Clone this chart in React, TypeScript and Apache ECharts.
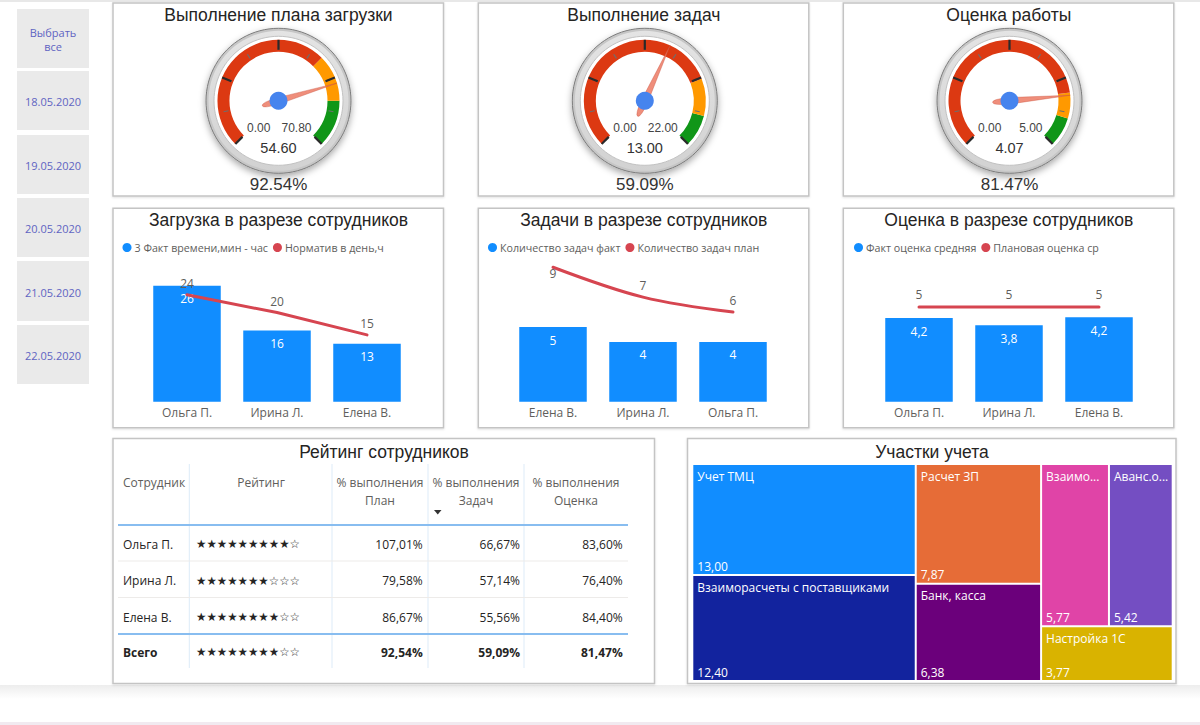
import React, { useEffect, useRef } from "react";
import * as echarts from "echarts";

// ---------- DATA ----------
const selectAllLines = ["Выбрать", "все"];
const dateSlicers = ["18.05.2020", "19.05.2020", "20.05.2020", "21.05.2020", "22.05.2020"];

const gaugeTitles = ["Выполнение плана загрузки", "Выполнение задач", "Оценка работы"];
const gaugeValues = [54.6, 13.0, 4.07];
const gaugeMin = [0, 0, 0];
const gaugeMax = [70.8, 22.0, 5.0];
const gaugeOrangeFrom = [47.2, 16.6, 4.02];
const gaugeGreenFrom = [59.0, 19.5, 4.48];
const gaugePercents = [92.54, 59.09, 81.47];

const barTitles = ["Загрузка в разрезе сотрудников", "Задачи в разрезе сотрудников", "Оценка в разрезе сотрудников"];
const loadCategories = ["Ольга П.", "Ирина Л.", "Елена В."];
const loadSeriesNames = ["3 Факт времени,мин - час", "Норматив в день,ч"];
const loadFact = [26, 16, 13];
const loadNorm = [24, 20, 15];

const taskCategories = ["Елена В.", "Ирина Л.", "Ольга П."];
const taskSeriesNames = ["Количество задач факт", "Количество задач план"];
const taskFact = [5, 4, 4];
const taskPlan = [9, 7, 6];

const scoreCategories = ["Ольга П.", "Ирина Л.", "Елена В."];
const scoreSeriesNames = ["Факт оценка средняя", "Плановая оценка ср"];
const scoreFact = [4.18, 3.82, 4.22];
const scorePlan = [5, 5, 5];

const tableTitle = "Рейтинг сотрудников";
const tableHeaders = [["Сотрудник"], ["Рейтинг"], ["% выполнения", "План"], ["% выполнения", "Задач"], ["% выполнения", "Оценка"]];
const employees = ["Ольга П.", "Ирина Л.", "Елена В."];
const ratingStars = [9, 7, 8];
const planPct = [107.01, 79.58, 86.67];
const taskPct = [66.67, 57.14, 55.56];
const scorePct = [83.6, 76.4, 84.4];
const totalLabel = "Всего";
const totalStars = 8;
const totalPct = [92.54, 59.09, 81.47];

const treemapTitle = "Участки учета";
const areaNames = ["Учет ТМЦ", "Взаиморасчеты с поставщиками", "Расчет ЗП", "Банк, касса", "Взаиморасчеты с покупателями", "Аванс.отчеты", "Настройка 1С"];
const areaValues = [13.0, 12.4, 7.87, 6.38, 5.77, 5.42, 3.77];

// ---------- STYLES ----------
const SEGOE = '"Open Sans", "Noto Sans", sans-serif';
const ARIAL = '"Liberation Sans", Arial, sans-serif';
const STARS = '"DejaVu Sans", sans-serif';
const areaColors = ["#118DFF", "#12239E", "#E66C37", "#6B007B", "#E044A7", "#744EC2", "#D9B300"];
const BLUE = "#118DFF";
const RED = "#D64550";
const GRAY_TEXT = "#605E5C";
const DARK_TEXT = "#252423";

const fmtComma = (v: number, d: number) => v.toFixed(d).replace(".", ",");

function txt(text: string, x: number, y: number, o: any = {}) {
  return {
    type: "text",
    x,
    y,
    z: 10,
    silent: true,
    style: {
      text,
      fill: o.fill ?? DARK_TEXT,
      fontSize: o.size ?? 12,
      fontFamily: o.family ?? SEGOE,
      fontWeight: o.weight ?? "normal",
      align: o.align ?? "left",
      verticalAlign: "middle",
    },
  };
}

function panel(x: number, y: number, w: number, h: number) {
  return {
    type: "rect",
    z: 0,
    silent: true,
    shape: { x, y, width: w, height: h },
    style: { fill: "#fff", stroke: "#C4C4C4", lineWidth: 1.5, shadowBlur: 2, shadowOffsetY: 1, shadowColor: "rgba(0,0,0,0.12)" },
  };
}

function hline(x1: number, x2: number, y: number, color: string, w: number) {
  return { type: "line", z: 5, silent: true, shape: { x1, y1: y, x2, y2: y }, style: { stroke: color, lineWidth: w } };
}
function vline(x: number, y1: number, y2: number, color: string, w: number) {
  return { type: "line", z: 5, silent: true, shape: { x1: x, y1, x2: x, y2 }, style: { stroke: color, lineWidth: w } };
}

function buildOption() {
  const graphic: any[] = [];

  // page decorations
  graphic.push({ type: "rect", z: 0, silent: true, shape: { x: 0, y: 0, width: 1200, height: 2 }, style: { fill: "#E8E8E8" } });
  graphic.push({
    type: "rect", z: 0, silent: true, shape: { x: 0, y: 685, width: 1200, height: 14 },
    style: { fill: new echarts.graphic.LinearGradient(0, 0, 0, 1, [{ offset: 0, color: "#EDEDED" }, { offset: 1, color: "#FFFFFF" }]) },
  });
  graphic.push({ type: "rect", z: 0, silent: true, shape: { x: 0, y: 722, width: 1200, height: 3 }, style: { fill: "#F1EAF0" } });

  // slicers
  const slicerBoxes = [[9, 59], [71, 59], [135, 59], [198, 59], [261, 60], [325, 59]];
  slicerBoxes.forEach(([y, h], i) => {
    graphic.push({ type: "rect", z: 1, silent: true, shape: { x: 17, y, width: 72, height: h }, style: { fill: "#EAEAEA" } });
    if (i === 0) {
      graphic.push(txt(selectAllLines[0], 53, 32.5, { fill: "#5F64C2", size: 11, align: "center" }));
      graphic.push(txt(selectAllLines[1], 53, 46, { fill: "#5F64C2", size: 11, align: "center" }));
    } else {
      graphic.push(txt(dateSlicers[i - 1], 53, y + h / 2 + 1, { fill: "#5F64C2", size: 11, align: "center" }));
    }
  });

  // gauge panels
  const gx = [113, 478.3, 843.3];
  const gcx = [278.5, 644.8, 1009.5];
  const gcy = 100.8;
  gx.forEach((x, i) => {
    graphic.push(panel(x, 3, 330.5, 193));
    graphic.push(txt(gaugeTitles[i], x + 165.5, 15, { size: 17.5, family: ARIAL, align: "center" }));
    // chrome ring
    graphic.push({
      type: "circle", z: 1, silent: true, shape: { cx: gcx[i], cy: gcy, r: 72.5 },
      style: { fill: "#C6C6C6", stroke: "#7C7C7C", lineWidth: 1, shadowBlur: 7, shadowOffsetY: 3, shadowColor: "rgba(0,0,0,0.35)" },
    });
    graphic.push({
      type: "circle", z: 1, silent: true, shape: { cx: gcx[i], cy: gcy, r: 70 },
      style: { fill: new echarts.graphic.LinearGradient(0, 0, 0, 1, [{ offset: 0, color: "#E4E4E4" }, { offset: 1, color: "#D2D2D2" }]) },
    });
    graphic.push({
      type: "circle", z: 1, silent: true, shape: { cx: gcx[i], cy: gcy, r: 64.5 },
      style: { fill: "#FFFFFF", stroke: "#C2C2C2", lineWidth: 1 },
    });
    graphic.push(txt(gaugeMin[i].toFixed(2), gcx[i] - 31.5, gcy + 27.5, { size: 12, family: ARIAL, fill: "#444" }));
    graphic.push(txt(gaugeMax[i].toFixed(2), gcx[i] + 33, gcy + 27.5, { size: 12, family: ARIAL, fill: "#444", align: "right" }));
    graphic.push(txt(gaugePercents[i].toFixed(2) + "%", gcx[i], 184, { size: 17, family: ARIAL, fill: "#333", align: "center" }));
  });

  // bar panels
  gx.forEach((x, i) => {
    graphic.push(panel(x, 208.3, 330.5, 219.5));
    graphic.push(txt(barTitles[i], x + 165.5, 220, { size: 17.5, family: ARIAL, align: "center" }));
  });

  // table panel
  graphic.push(panel(113, 438.5, 541.5, 245));
  graphic.push(txt(tableTitle, 384, 452, { size: 17.5, family: ARIAL, align: "center" }));
  const seps = [189.3, 332, 428, 524];
  seps.forEach((x) => graphic.push(vline(x, 464, 668, "#DDEBF8", 1)));
  graphic.push(hline(118, 628, 525, "#88BDF0", 2));
  graphic.push(hline(118, 628, 561, "#EDEBE9", 1));
  graphic.push(hline(118, 628, 597.5, "#EDEBE9", 1));
  graphic.push(hline(118, 628, 634, "#88BDF0", 2));
  const hdrX = [123, 261, 380, 476, 576];
  tableHeaders.forEach((lines, c) => {
    lines.forEach((line, k) => {
      graphic.push(txt(line, hdrX[c], 482.7 + k * 17.5, { fill: GRAY_TEXT, size: 12, align: c === 0 ? "left" : "center" }));
    });
  });
  graphic.push({ type: "polygon", z: 10, silent: true, shape: { points: [[434, 510], [441.5, 510], [437.75, 514.5]] }, style: { fill: "#333" } });
  const rowY = [544, 580.5, 617];
  const valX = [422.7, 520, 622.7];
  const starStr = (n: number) => "★".repeat(n) + "☆".repeat(10 - n);
  employees.forEach((name, r) => {
    graphic.push(txt(name, 123, rowY[r], { size: 12 }));
    graphic.push(txt(starStr(ratingStars[r]), 196, rowY[r], { size: 11.6, family: STARS }));
    [planPct[r], taskPct[r], scorePct[r]].forEach((v, c) => {
      graphic.push(txt(fmtComma(v, 2) + "%", valX[c], rowY[r], { size: 12, align: "right" }));
    });
  });
  graphic.push(txt(totalLabel, 123, 652, { size: 12, weight: "bold" }));
  graphic.push(txt(starStr(totalStars), 196, 652, { size: 11.6, family: STARS }));
  totalPct.forEach((v, c) => graphic.push(txt(fmtComma(v, 2) + "%", valX[c], 652, { size: 12, align: "right", weight: "bold" })));

  // treemap panel
  graphic.push(panel(687.5, 438.5, 488.5, 245));
  graphic.push(txt(treemapTitle, 932, 452, { size: 17.5, family: ARIAL, align: "center" }));

  // ----- gauges -----
  const bandColors = (i: number) => [
    [(gaugeOrangeFrom[i] - gaugeMin[i]) / (gaugeMax[i] - gaugeMin[i]), "#DC3912"],
    [(gaugeGreenFrom[i] - gaugeMin[i]) / (gaugeMax[i] - gaugeMin[i]), "#FF9900"],
    [1, "#109618"],
  ];
  const gaugeCommon = (i: number) => ({
    type: "gauge",
    center: [gcx[i], gcy],
    radius: 61,
    startAngle: 225,
    endAngle: -45,
    min: gaugeMin[i],
    max: gaugeMax[i],
    splitNumber: 4,
    silent: true,
    axisLabel: { show: false },
    title: { show: false },
  });
  const gaugeSeries = gaugeValues.map((v, i) => ({
    ...gaugeCommon(i),
    z: 3,
    axisLine: { lineStyle: { width: 12, color: bandColors(i) } },
    splitLine: { show: false },
    axisTick: { splitNumber: 2, distance: -7, length: 5, lineStyle: { color: "#6E6E6E", width: 1.2 } },
    pointer: {
      icon: "path://M2,0 L4,78 Q4,100 2,100 Q0,100 0,78 Z",
      length: 78,
      width: 6.5,
      offsetCenter: [0, 17],
      itemStyle: { color: "rgba(236,122,100,0.85)", borderColor: "rgba(200,80,60,0.6)", borderWidth: 0.6 },
    },
    anchor: { show: true, showAbove: true, size: 18, itemStyle: { color: "#4684EE" } },
    detail: {
      show: true,
      valueAnimation: false,
      offsetCenter: [0, 47],
      formatter: (val: number) => val.toFixed(2),
      fontSize: 14.5,
      fontWeight: "normal",
      fontFamily: ARIAL,
      color: "#333",
    },
    data: [{ value: v }],
  }));
  // major tick overlay so that the dark split lines sit on top of the minor ticks
  const gaugeTickOverlay = gaugeValues.map((v, i) => ({
    ...gaugeCommon(i),
    z: 4,
    axisLine: { show: true, lineStyle: { width: 12, color: [[1, "rgba(0,0,0,0)"]] } },
    splitLine: { show: true, distance: -12, length: 10, lineStyle: { color: "#2A2A2A", width: 2.2 } },
    axisTick: { show: false },
    pointer: { show: false },
    anchor: { show: false },
    detail: { show: false },
    data: [{ value: v }],
  }));

  // ----- bar/line combos -----
  const gridLefts = [142, 508, 874];
  const grids = [
    { left: gridLefts[0], top: 268, width: 270, height: 133.7 },
    { left: gridLefts[1], top: 252.3, width: 270, height: 149.4 },
    { left: gridLefts[2], top: 261.7, width: 270, height: 140 },
  ];
  const cats = [loadCategories, taskCategories, scoreCategories];
  const xAxes = cats.map((c, i) => ({
    type: "category",
    gridIndex: i,
    data: c,
    axisLine: { show: false },
    axisTick: { show: false },
    axisLabel: { color: GRAY_TEXT, fontSize: 12, fontFamily: SEGOE, margin: 5 },
  }));
  const yAxes = [
    { type: "value", gridIndex: 0, min: 0, max: 30, show: false },
    { type: "value", gridIndex: 1, min: 0, max: 10, show: false },
    { type: "value", gridIndex: 2, min: 0, max: 7, show: false },
    { type: "value", gridIndex: 2, min: 0, max: 7.4, show: false },
  ];
  const barLabel = (fmt?: any) => ({
    show: true,
    position: "insideTop",
    distance: 7,
    color: "#fff",
    fontSize: 12,
    fontFamily: SEGOE,
    formatter: fmt,
  });
  const lineLabel = (dist: number) => ({ show: true, position: "top", distance: dist, color: GRAY_TEXT, fontSize: 12, fontFamily: SEGOE });
  const barBase = { type: "bar", barWidth: "75%", itemStyle: { color: BLUE }, z: 2 };
  const lineBase = {
    type: "line",
    symbol: "circle",
    symbolSize: 1,
    showSymbol: true,
    itemStyle: { color: RED },
    lineStyle: { color: RED, width: 3, cap: "round" },
    z: 3,
  };
  const comboSeries = [
    { ...barBase, name: loadSeriesNames[0], xAxisIndex: 0, yAxisIndex: 0, data: loadFact, label: barLabel() },
    { ...lineBase, name: loadSeriesNames[1], xAxisIndex: 0, yAxisIndex: 0, data: loadNorm, label: lineLabel(5) },
    { ...barBase, name: taskSeriesNames[0], xAxisIndex: 1, yAxisIndex: 1, data: taskFact, label: barLabel() },
    {
      ...lineBase,
      name: taskSeriesNames[1],
      xAxisIndex: 1,
      yAxisIndex: 1,
      smooth: 0.35,
      data: taskPlan.map((v, i) => (i === 0 ? { value: v, label: { position: "inside", offset: [0, 6] } } : v)),
      label: lineLabel(5),
    },
    {
      ...barBase,
      name: scoreSeriesNames[0],
      xAxisIndex: 2,
      yAxisIndex: 2,
      data: scoreFact,
      label: barLabel((p: any) => fmtComma(p.value, 1)),
    },
    { ...lineBase, name: scoreSeriesNames[1], xAxisIndex: 2, yAxisIndex: 3, data: scorePlan, label: lineLabel(6) },
  ];

  const legendBase = {
    top: 237,
    icon: "circle",
    itemWidth: 9,
    itemHeight: 9,
    itemGap: 5,
    selectedMode: false,
    textStyle: { color: GRAY_TEXT, fontSize: 10.7, fontFamily: SEGOE, padding: [0, 0, 0, -2] },
  };
  const legends = [
    { ...legendBase, left: 117.5, data: loadSeriesNames },
    { ...legendBase, left: 483, data: taskSeriesNames },
    { ...legendBase, left: 849, data: scoreSeriesNames },
  ];

  // ----- treemap -----
  const tmBox = { left: 693.3, top: 465, width: 478.4, height: 215 };
  const treemapNames = {
    type: "treemap",
    ...tmBox,
    roam: false,
    nodeClick: false,
    silent: true,
    breadcrumb: { show: false },
    squareRatio: 0.5 * (1 + Math.sqrt(5)),
    itemStyle: { borderWidth: 0, gapWidth: 2, borderColor: "#fff" },
    levels: [{ itemStyle: { borderWidth: 0, gapWidth: 2, borderColor: "#fff" } }],
    label: {
      show: true,
      position: "insideTopLeft",
      color: "#fff",
      fontSize: 12,
      fontFamily: SEGOE,
      overflow: "truncate",
      ellipsis: "...",
      padding: [5, -17, 5, 4],
    },
    upperLabel: { show: false },
    z: 2,
    data: areaNames.map((n, i) => ({ name: n, value: areaValues[i], itemStyle: { color: areaColors[i] } })),
  };
  const treemapValues = {
    type: "treemap",
    ...tmBox,
    roam: false,
    nodeClick: false,
    silent: true,
    breadcrumb: { show: false },
    squareRatio: 0.5 * (1 + Math.sqrt(5)),
    itemStyle: { borderWidth: 0, gapWidth: 2, borderColor: "rgba(0,0,0,0)", color: "rgba(0,0,0,0)" },
    levels: [{ itemStyle: { borderWidth: 0, gapWidth: 2, borderColor: "rgba(0,0,0,0)" } }],
    label: {
      show: true,
      position: "insideBottomLeft",
      color: "#fff",
      fontSize: 12,
      fontFamily: SEGOE,
      padding: [5, 5, 2, 4],
      formatter: (p: any) => fmtComma(p.value, 2),
    },
    upperLabel: { show: false },
    z: 4,
    data: areaNames.map((n, i) => ({ name: n + " ", value: areaValues[i], itemStyle: { color: "rgba(0,0,0,0)" } })),
  };

  return {
    animation: false,
    backgroundColor: "#fff",
    graphic: { elements: graphic },
    grid: grids,
    xAxis: xAxes,
    yAxis: yAxes,
    legend: legends,
    series: [...gaugeSeries, ...gaugeTickOverlay, ...comboSeries, treemapNames, treemapValues],
  };
}

export default function App() {
  const ref = useRef<HTMLDivElement>(null);
  useEffect(() => {
    if (!ref.current) return;
    const chart = echarts.init(ref.current, null, { renderer: "svg" });
    chart.setOption(buildOption() as any);
    return () => chart.dispose();
  }, []);
  return <div ref={ref} style={{ position: "fixed", left: 0, top: 0, width: 1200, height: 725, background: "#fff" }} />;
}
